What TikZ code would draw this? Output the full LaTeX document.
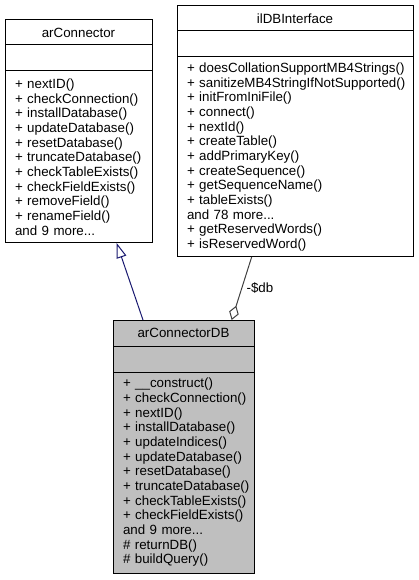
\documentclass[tikz,border=0pt]{standalone}
\usepackage{fontspec}
\setmainfont{Liberation Sans}
\usetikzlibrary{arrows.meta,positioning}
\definecolor{inheritblue}{HTML}{191970}
\definecolor{membergray}{HTML}{404040}
\definecolor{currentgray}{HTML}{BFBFBF}

\begin{document}
\begin{tikzpicture}[x=0.75pt,y=-0.75pt,line width=0.75pt,node distance=0pt,
  class part/.style={draw,rectangle,outer sep=0pt,inner sep=0pt,font=\fontsize{10}{11}\selectfont},
  class title/.style={class part,minimum height=18.75pt,anchor=north west},
  class attr/.style={class part,minimum height=19.5pt},
  class ops/.style={class part,align=left,inner xsep=7.5pt,
    execute at begin node={\hyphenpenalty=10000\exhyphenpenalty=10000\hbadness=10000\hfuzz=20pt}},
  inherit edge/.style={draw=inheritblue,-{Triangle[fill=white,length=11.25pt,width=7.5pt]}},
  member edge/.style={draw=membergray,-{Diamond[fill=white,length=11.25pt,width=7.5pt]}}]

  \useasboundingbox (0,0) rectangle (418,580);

  \node[class title,minimum width=110.25pt] (connTitle) at (5,20) {arConnector};
  \node[class attr,minimum width=110.25pt] (connAttr) [below=of connTitle] {};
  \node[class ops,text width=95.25pt,minimum height=129pt] (connOps) [below=of connAttr]
    {+~nextID()\\+~checkConnection()\\+~installDatabase()\\+~updateDatabase()\\
     +~resetDatabase()\\+~truncateDatabase()\\+~checkTableExists()\\+~checkFieldExists()\\
     +~removeField()\\+~renameField()\\and 9 more...};

  \node[class title,minimum width=177pt] (ilTitle) at (177,6) {ilDBInterface};
  \node[class attr,minimum width=177pt] (ilAttr) [below=of ilTitle] {};
  \node[class ops,text width=162pt,minimum height=150pt] (ilOps) [below=of ilAttr]
    {+~doesCollationSupportMB4Strings()\\+~sanitizeMB4StringIfNotSupported()\\
     +~initFromIniFile()\\+~connect()\\+~nextId()\\+~createTable()\\+~addPrimaryKey()\\
     +~createSequence()\\+~getSequenceName()\\+~tableExists()\\and 78 more...\\
     +~getReservedWords()\\+~isReservedWord()};

  \node[class title,fill=currentgray,minimum width=105.75pt,minimum height=19.5pt] (dbTitle) at (113,320) {arConnectorDB};
  \node[class attr,fill=currentgray,minimum width=105.75pt] (dbAttr) [below=of dbTitle] {};
  \node[class ops,fill=currentgray,text width=90.75pt,minimum height=150.75pt] (dbOps) [below=of dbAttr]
    {+~\_\_construct()\\+~checkConnection()\\+~nextID()\\+~installDatabase()\\
     +~updateIndices()\\+~updateDatabase()\\+~resetDatabase()\\+~truncateDatabase()\\
     +~checkTableExists()\\+~checkFieldExists()\\and 9 more...\\\#~returnDB()\\\#~buildQuery()};

  \path[every node/.style={font=\fontsize{10}{11}\selectfont}]
    ([xshift=22.5pt]dbTitle.north west) edge[inherit edge] ([xshift=83.75pt]connOps.south west)
    ([xshift=56pt]ilOps.south west) edge[member edge] node [right] {-\$db} ([xshift=89pt]dbTitle.north west);

\end{tikzpicture}
\end{document}
